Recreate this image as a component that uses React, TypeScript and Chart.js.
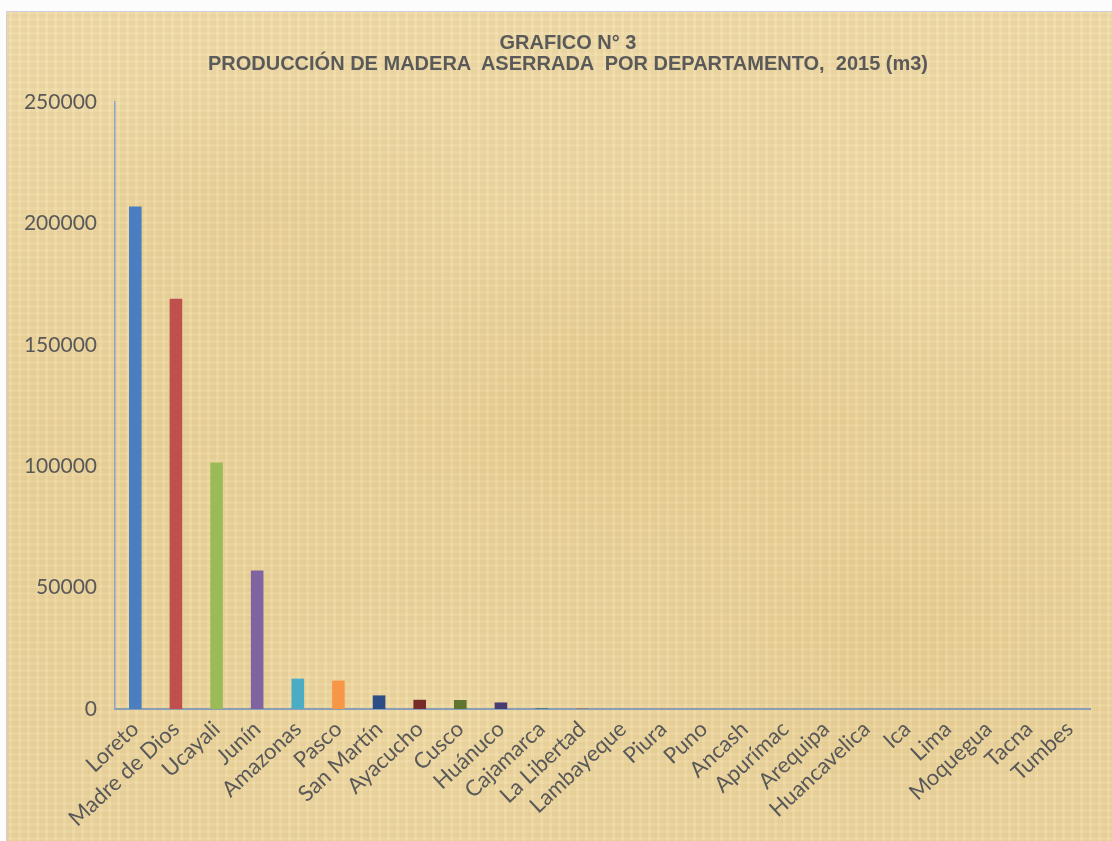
import React, { useEffect, useRef } from "react";
import { Chart, registerables } from "chart.js";

Chart.register(...registerables);

const categories: string[] = [
  "Loreto", "Madre de Dios", "Ucayali", "Junín", "Amazonas", "Pasco", "San Martín",
  "Ayacucho", "Cusco", "Huánuco", "Cajamarca", "La Libertad", "Lambayeque", "Piura",
  "Puno", "Ancash", "Apurímac", "Arequipa", "Huancavelica", "Ica", "Lima", "Moquegua",
  "Tacna", "Tumbes",
];

const produccion: number[] = [
  207000, 169000, 101500, 57000, 12500, 11700, 5600, 3800, 3700, 2700,
  260, 130, 90, 70, 55, 40, 35, 25, 20, 15, 12, 8, 5, 3,
];

const barColors: string[] = [
  "#4A7EC0", "#C0504D", "#9BBB59", "#8064A2", "#4BACC6", "#F79646", "#2C4D85",
  "#772C2A", "#5F7530", "#463B72", "#276A7C", "#B65708", "#729ACA", "#D4726F",
  "#AFC97A", "#997FBC", "#6DBDD6", "#FAA96C", "#3A5F8F", "#9C3D3A", "#7A9644",
  "#644E84", "#3A8CA2", "#D5760F",
];

const yTicks: number[] = [0, 50000, 100000, 150000, 200000, 250000];

const titleLines: string[] = [
  "GRAFICO N° 3",
  "PRODUCCIÓN DE MADERA  ASERRADA  POR DEPARTAMENTO,  2015 (m3)",
];

export default function App() {
  const canvasRef = useRef<HTMLCanvasElement | null>(null);

  useEffect(() => {
    const canvas = canvasRef.current;
    if (!canvas) return;
    const chart = new Chart(canvas, {
      type: "bar",
      data: {
        labels: categories,
        datasets: [
          {
            label: "Producción",
            data: produccion,
            backgroundColor: barColors,
            borderWidth: 0,
            categoryPercentage: 1,
            barPercentage: 0.31,
          },
        ],
      },
      options: {
        animation: false,
        responsive: false,
        maintainAspectRatio: false,
        layout: { padding: { top: 90, right: 22, bottom: 0, left: 0 } },
        plugins: {
          legend: { display: false },
          tooltip: { enabled: false },
          title: { display: false },
        },
        scales: {
          x: {
            grid: { display: false, drawTicks: false },
            border: { display: true, color: "#8A9FB4", width: 2 },
            ticks: {
              color: "#595959",
              font: { family: "Lato", size: 22 },
              minRotation: 43,
              maxRotation: 43,
              padding: 7,
              autoSkip: false,
            },
            afterFit: (scale: any) => {
              scale.height = 132;
            },
          },
          y: {
            min: 0,
            max: 250000,
            afterBuildTicks: (scale: any) => {
              scale.ticks = yTicks.map((v) => ({ value: v }));
            },
            grid: { display: false, drawTicks: false },
            border: { display: true, color: "#8EA6C4", width: 1.5 },
            ticks: {
              color: "#595959",
              font: { family: "Lato", size: 21 },
              padding: 18,
              callback: (v: any) => String(v),
            },
            afterFit: (scale: any) => {
              scale.width = 108;
            },
          },
        },
      },
    });
    return () => chart.destroy();
  }, []);

  const parchment =
    "repeating-linear-gradient(90deg, rgba(170,130,60,0.07) 0px, rgba(170,130,60,0.07) 2px, rgba(255,245,210,0.06) 2px, rgba(255,245,210,0.06) 5px, rgba(160,120,50,0.05) 5px, rgba(160,120,50,0.05) 9px)," +
    "repeating-linear-gradient(0deg, rgba(170,130,60,0.06) 0px, rgba(170,130,60,0.06) 1px, rgba(255,245,210,0.05) 1px, rgba(255,245,210,0.05) 4px, rgba(160,120,50,0.04) 4px, rgba(160,120,50,0.04) 7px)," +
    "radial-gradient(ellipse 300px 200px at 260px 200px, rgba(205,165,85,0.12), rgba(205,165,85,0) 75%)," +
    "radial-gradient(ellipse 360px 260px at 640px 380px, rgba(205,165,85,0.14), rgba(205,165,85,0) 75%)," +
    "radial-gradient(ellipse 320px 240px at 880px 620px, rgba(205,165,85,0.12), rgba(205,165,85,0) 75%)," +
    "radial-gradient(ellipse 300px 220px at 960px 200px, rgba(250,235,190,0.25), rgba(250,235,190,0) 75%)," +
    "radial-gradient(ellipse 300px 200px at 420px 720px, rgba(250,235,190,0.2), rgba(250,235,190,0) 75%)," +
    "linear-gradient(180deg, #F1DEAD 0%, #ECD59E 50%, #EDD7A2 100%)";

  return (
    <div
      style={{
        position: "fixed",
        left: 0,
        top: 0,
        width: 1112,
        height: 841,
        background: "#FDFCFD",
        overflow: "hidden",
      }}
    >
      <div
        style={{
          position: "absolute",
          left: 6,
          top: 11,
          width: 1106,
          height: 830,
          boxSizing: "border-box",
          borderLeft: "1px solid #D3CCDB",
          borderTop: "1px solid #D3CCDB",
          background: parchment,
        }}
      >
        <canvas
          ref={canvasRef}
          width={1105}
          height={829}
          style={{ position: "absolute", left: 0, top: 0, width: 1105, height: 829 }}
        />
        <div
          style={{
            position: "absolute",
            left: 0,
            top: 20,
            width: 1122,
            textAlign: "center",
            fontFamily: "'Liberation Sans', Arial, sans-serif",
            fontWeight: "bold",
            fontSize: 20,
            lineHeight: "21px",
            color: "#5A5A5A",
            whiteSpace: "pre",
          }}
        >
          {titleLines.map((t, i) => (
            <div key={i}>{t}</div>
          ))}
        </div>
      </div>
    </div>
  );
}
